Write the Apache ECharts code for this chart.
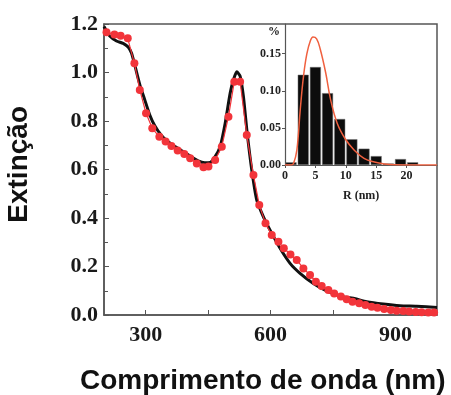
<!DOCTYPE html>
<html>
<head>
<meta charset="utf-8">
<script src="https://cdn.jsdelivr.net/npm/echarts@6/dist/echarts.min.js"></script>
<style>
  html, body { margin: 0; padding: 0; background: #fff; }
  #chart { width: 451px; height: 395px; }
</style>
</head>
<body>
<div id="chart"></div>
<script>
// measured spectrum (black line)
const measWavelength = [200, 214, 230, 246, 258, 266, 274, 286, 298, 310, 322, 338, 350, 366, 386, 406, 426, 442, 455, 467, 479, 491, 503, 511, 519, 527, 535, 544, 555, 567, 583, 599, 623, 647, 671, 703, 735, 767, 799, 831, 871, 911, 951, 1000]
const measExtinction = [1.19, 1.15, 1.13, 1.12, 1.105, 1.08, 1.03, 0.95, 0.887, 0.825, 0.78, 0.74, 0.72, 0.70, 0.678, 0.657, 0.636, 0.628, 0.629, 0.653, 0.694, 0.79, 0.914, 0.97, 1.003, 0.985, 0.90, 0.75, 0.598, 0.474, 0.405, 0.35, 0.275, 0.213, 0.172, 0.13, 0.099, 0.078, 0.069, 0.055, 0.045, 0.038, 0.036, 0.031]

// calculated spectrum (red dots)
const calcWavelength = [206, 225, 240, 257, 273, 286, 301, 316, 333, 348, 362, 377, 393, 407, 423, 439, 451, 467, 483, 499, 513, 527, 543, 559, 573, 588, 603, 619, 632, 648, 663, 679, 695, 709, 723, 739, 753, 769, 783, 797, 813, 828, 843, 857, 873, 889, 903, 919, 933, 949, 963, 979, 993]
const calcExtinction = [1.166, 1.157, 1.152, 1.141, 1.038, 0.928, 0.832, 0.77, 0.735, 0.715, 0.697, 0.678, 0.664, 0.646, 0.625, 0.609, 0.612, 0.639, 0.694, 0.818, 0.962, 0.962, 0.742, 0.577, 0.454, 0.378, 0.33, 0.302, 0.275, 0.25, 0.227, 0.192, 0.165, 0.137, 0.12, 0.103, 0.089, 0.076, 0.065, 0.055, 0.048, 0.041, 0.034, 0.030, 0.025, 0.021, 0.018, 0.016, 0.014, 0.012, 0.011, 0.010, 0.010]

// size histogram (inset)
const binCenter = [1, 3, 5, 7, 9, 11, 13, 15, 17, 19, 21]
const binFraction = [0.0036, 0.1216, 0.132, 0.0968, 0.062, 0.0347, 0.022, 0.012, 0.002, 0.008, 0.0036]

// lognormal fit (inset red curve)
const fitR = [0, 1, 1.4, 1.95, 2.5, 3.05, 3.6, 4.2, 4.6, 5.2, 5.8, 6.7, 7.5, 8.6, 10, 11.4, 13, 14.7, 16.4, 18, 25]
const fitFraction = [0, 0, 0.002, 0.02, 0.074, 0.12, 0.15, 0.168, 0.1725, 0.170, 0.156, 0.124, 0.088, 0.056, 0.034, 0.020, 0.009, 0.004, 0.0014, 0.0004, 0]

const mainTicksX = [300, 450, 600, 750, 900]
const mainLabelsX = [300, 600, 900]

const axisColor = '#555'
const serif = 'Liberation Serif'

const chart = echarts.init(document.getElementById('chart'))

const zip = (xs, ys) => xs.map((x, i) => [x, ys[i]])

const option = {
    backgroundColor: '#fff',
    animation: false,
    grid: [
        { left: 104, right: 14, top: 24, bottom: 80, show: true, borderColor: axisColor, borderWidth: 1.5, containLabel: false },
        { left: 285, right: 14, top: 24, bottom: 230, containLabel: false }
    ],
    xAxis: [
        {
            gridIndex: 0, type: 'value', min: 200, max: 1000, interval: 50,
            axisLine: { lineStyle: { color: axisColor, width: 1.5 } },
            axisTick: { inside: true, length: 5, customValues: mainTicksX, lineStyle: { color: axisColor } },
            axisLabel: { customValues: mainLabelsX, margin: 9, fontFamily: serif, fontWeight: 'bold', fontSize: 22, color: '#1a1a1a' },
            splitLine: { show: false }
        },
        {
            gridIndex: 1, type: 'value', min: 0, max: 25, interval: 5,
            axisLine: { onZero: false, lineStyle: { color: axisColor, width: 1.2 } },
            axisTick: { length: 3, lineStyle: { color: axisColor } },
            axisLabel: { showMaxLabel: false, margin: 5, fontFamily: serif, fontWeight: 'bold', fontSize: 12, color: '#222' },
            splitLine: { show: false }
        }
    ],
    yAxis: [
        {
            gridIndex: 0, type: 'value', min: 0, max: 1.2, interval: 0.2,
            axisLine: { show: true, lineStyle: { color: axisColor, width: 1.5 } },
            axisTick: { show: true, inside: true, length: 5, lineStyle: { color: axisColor } },
            minorTick: { show: true, splitNumber: 2, length: 4, lineStyle: { color: axisColor } },
            axisLabel: { margin: 6, fontFamily: serif, fontWeight: 'bold', fontSize: 22, color: '#1a1a1a', formatter: v => v.toFixed(1) },
            splitLine: { show: false }
        },
        {
            gridIndex: 1, type: 'value', min: 0, max: 0.19, interval: 0.05,
            axisLine: { show: true, lineStyle: { color: axisColor, width: 1.2 } },
            axisTick: { show: true, length: 3, lineStyle: { color: axisColor } },
            axisLabel: { showMaxLabel: false, margin: 4, fontFamily: serif, fontWeight: 'bold', fontSize: 12, color: '#222', formatter: v => v.toFixed(2) },
            splitLine: { show: false }
        }
    ],
    series: [
        {
            type: 'line', xAxisIndex: 0, yAxisIndex: 0,
            data: zip(measWavelength, measExtinction),
            smooth: 0.2, showSymbol: false,
            lineStyle: { color: '#111', width: 3 }
        },
        {
            type: 'line', xAxisIndex: 0, yAxisIndex: 0,
            data: zip(calcWavelength, calcExtinction),
            symbol: 'circle', symbolSize: 8,
            itemStyle: { color: '#f2343a' },
            lineStyle: { color: '#f2343a', width: 1.2 }
        },
        {
            type: 'bar', xAxisIndex: 1, yAxisIndex: 1,
            data: zip(binCenter, binFraction),
            barWidth: 11,
            itemStyle: { color: '#0d0d0d', borderColor: '#777', borderWidth: 0.5 }
        },
        {
            type: 'line', xAxisIndex: 1, yAxisIndex: 1,
            data: zip(fitR, fitFraction),
            smooth: 0.4, showSymbol: false,
            lineStyle: { color: '#f0603f', width: 1.5 },
            z: 5
        }
    ],
    graphic: [
        { type: 'text', left: 5, top: 106, rotation: Math.PI / 2, style: { text: 'Extinção', font: 'bold 28px "Liberation Sans"', fill: '#111' } },
        { type: 'text', left: 80, top: 367, style: { text: 'Comprimento de onda (nm)', font: 'bold 28px "Liberation Sans"', fill: '#111' } },
        { type: 'text', left: 268, top: 26, style: { text: '%', font: 'bold 12px "Liberation Serif"', fill: '#222' } },
        { type: 'text', left: 343, top: 190, style: { text: 'R (nm)', font: 'bold 12px "Liberation Serif"', fill: '#222' } }
    ]
}

chart.setOption(option)
</script>
</body>
</html>
